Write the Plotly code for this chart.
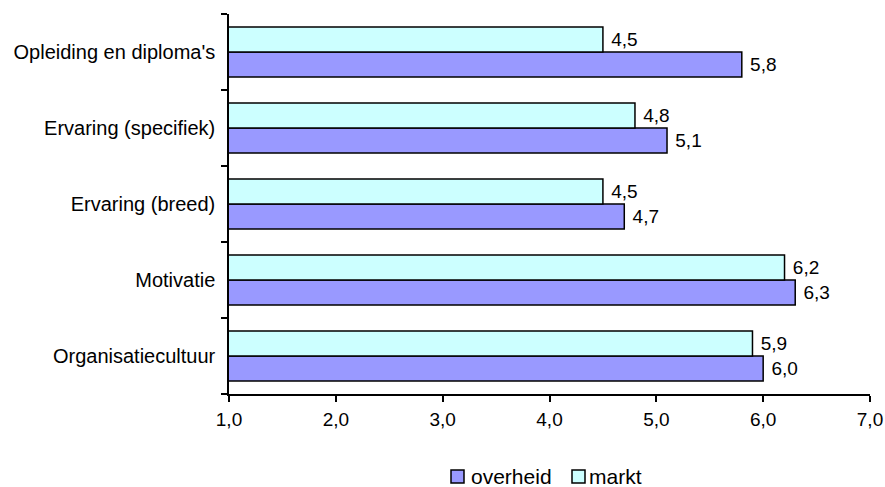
import plotly.graph_objects as go

# Scores per competentie, listed bottom to top as drawn on the category axis
categories = ["Organisatiecultuur", "Motivatie", "Ervaring (breed)",
              "Ervaring (specifiek)", "Opleiding en diploma's"]
overheid = [6.0, 6.3, 4.7, 5.1, 5.8]
markt = [5.9, 6.2, 4.5, 4.8, 4.5]
x_ticks = [1, 2, 3, 4, 5, 6, 7]

series_names = ["overheid", "markt"]
series_colors = ["#9999FF", "#CCFFFF"]

font_family = "Liberation Sans, Arial, sans-serif"
W, H = 885, 487
M_L, M_R, M_T, M_B = 229, 15, 14, 93
plot_w = W - M_L - M_R
plot_h = H - M_T - M_B


def px_x(px):
    return (px - M_L) / plot_w


def px_y(py):
    return (H - M_B - py) / plot_h


fig = go.Figure()
for name, vals, col in zip(series_names, [overheid, markt], series_colors):
    fig.add_trace(go.Bar(
        y=categories, x=vals, name=name, orientation="h",
        marker=dict(color=col, line=dict(color="black", width=1.5)),
        texttemplate=" %{x:.1f}", textposition="outside",
        textfont=dict(size=19, color="black", family=font_family),
        cliponaxis=False, constraintext="none", showlegend=False,
    ))

# Legend: outlined swatch followed by the series name
shapes = []
annotations = []
legend_items = [(451, 469), (572, 587)]
for (box_x, text_x), name, col in zip(legend_items, series_names, series_colors):
    shapes.append(dict(type="rect", xref="paper", yref="paper",
                       x0=px_x(box_x), x1=px_x(box_x + 13),
                       y0=px_y(470), y1=px_y(483),
                       fillcolor=col, line=dict(color="black", width=1.5)))
    annotations.append(dict(xref="paper", yref="paper", x=px_x(text_x),
                            y=px_y(476.5), xanchor="left", yanchor="middle",
                            text=name, showarrow=False,
                            font=dict(size=21, color="black", family=font_family)))

fig.update_layout(
    width=W, height=H,
    margin=dict(l=M_L, r=M_R, t=M_T, b=M_B, autoexpand=False),
    paper_bgcolor="white", plot_bgcolor="white",
    barmode="group", bargap=0.34, bargroupgap=0,
    separators=",.",
    font=dict(family=font_family, size=19, color="black"),
    showlegend=False,
    shapes=shapes, annotations=annotations,
    xaxis=dict(range=[1, 7], tickvals=x_ticks, tickformat=".1f",
               showgrid=False, zeroline=False, showline=True,
               linecolor="black", linewidth=1.5, ticks="outside",
               ticklen=6, tickwidth=1.5, tickcolor="black",
               tickfont=dict(size=19), ticklabelstandoff=1),
    yaxis=dict(type="category", showgrid=False, showline=True,
               linecolor="black", linewidth=1.5, ticks="outside",
               tickson="boundaries", ticklen=6, tickwidth=1.5,
               tickcolor="black", tickfont=dict(size=20),
               ticklabelstandoff=8),
)

fig.write_html("out.html")
